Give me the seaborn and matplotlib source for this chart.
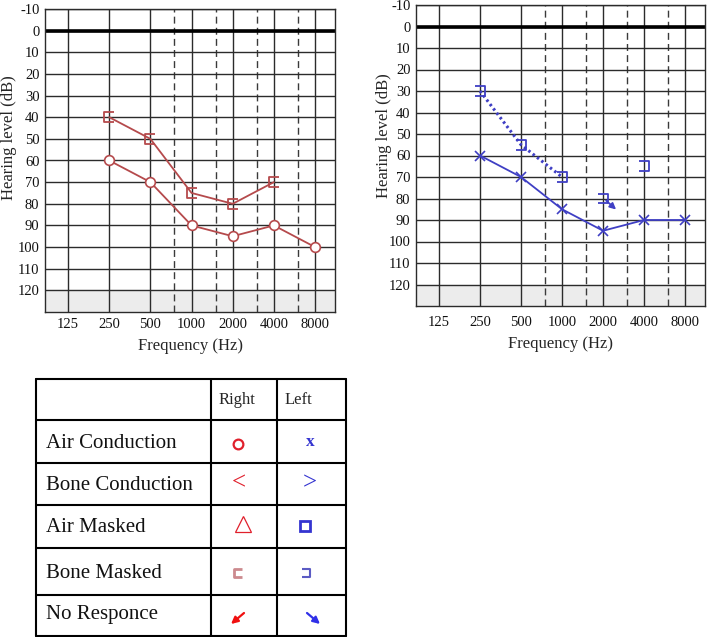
import numpy as np
import matplotlib
matplotlib.use("Agg")
import matplotlib.pyplot as plt
from matplotlib.path import Path
from matplotlib.transforms import offset_copy
import seaborn as sns

# audiogram values (dB HL)
tick_freqs = [125, 250, 500, 1000, 2000, 4000, 8000]
half_octaves = [750, 1500, 3000, 6000]
db_ticks = list(range(-10, 130, 10))

right_air_freq = [250, 500, 1000, 2000, 4000, 8000]
right_air_db = [60, 70, 90, 95, 90, 100]
right_bone_freq = [250, 500, 1000, 2000, 4000]
right_bone_db = [40, 50, 75, 80, 70]

left_air_freq = [250, 500, 1000, 2000, 4000, 8000]
left_air_db = [60, 70, 85, 95, 90, 90]
left_bone_freq = [250, 500, 1000]
left_bone_db = [30, 55, 70]
left_bone_single_freq = [2000, 4000]
left_bone_single_db = [80, 65]
left_no_resp_freq = 2000
left_no_resp_db = 80

row_labels = ["Air Conduction", "Bone Conduction", "Air Masked", "Bone Masked", "No Responce"]
col_labels = ["Right", "Left"]

RED = "#b54a4c"
BLUE = "#3f3fc4"
T_RED = "#e0202c"
T_BLUE = "#3434d0"

# bracket markers for masked bone conduction
bracket_right = Path([(1, 1), (-1, 1), (-1, -1), (1, -1)],
                     [Path.MOVETO, Path.LINETO, Path.LINETO, Path.LINETO])
bracket_left = Path([(-1, 1), (1, 1), (1, -1), (-1, -1)],
                    [Path.MOVETO, Path.LINETO, Path.LINETO, Path.LINETO])

sns.set_style("white")
plt.rcParams['font.family'] = ['Liberation Serif', 'DejaVu Serif']


def setup_audiogram(ax, xpad, label_xy):
    ax.set_xscale("log", base=2)
    ax.set_xlim(125 / 2 ** 0.56, 8000 * 2 ** 0.485)
    ax.set_ylim(130, -10)
    ax.axhspan(120, 130, color="#ececec", zorder=0)
    for f in tick_freqs:
        ax.axvline(f, color="#2b2b2b", lw=1, zorder=1)
    for f in half_octaves:
        ax.axvline(f, color="#3a3a3a", lw=1, ls=(0, (5, 3)), zorder=1)
    for d in db_ticks:
        ax.axhline(d, color="#2b2b2b", lw=1, zorder=1)
    ax.axhline(0, color="black", lw=2.6, zorder=2)
    ax.set_xticks(tick_freqs)
    ax.set_xticklabels([str(f) for f in tick_freqs])
    ax.xaxis.set_minor_locator(matplotlib.ticker.NullLocator())
    ax.set_yticks(db_ticks)
    ax.set_yticklabels([str(d) for d in db_ticks])
    ax.tick_params(length=0, labelsize=10.5, colors="#111111")
    ax.tick_params(axis="y", pad=4)
    ax.tick_params(axis="x", pad=xpad)
    for s in ax.spines.values():
        s.set_color("#2b2b2b")
        s.set_linewidth(1)
    ax.set_xlabel("Frequency (Hz)", fontsize=12, labelpad=5)
    ax.set_ylabel("Hearing level (dB)", fontsize=12, va="center")
    ax.yaxis.set_label_coords(*label_xy)


fig = plt.figure(figsize=(7.08, 6.37), dpi=100)
ax_r = fig.add_axes([45 / 708, 1 - 312 / 637, 290 / 708, 303 / 637])
ax_l = fig.add_axes([416 / 708, 1 - 306 / 637, 289 / 708, 301 / 637])
setup_audiogram(ax_r, 4, (-0.125, 0.575))
setup_audiogram(ax_l, 7, (-0.112, 0.567))

# right ear (red)
sns.lineplot(x=right_air_freq, y=right_air_db, ax=ax_r, color=RED, lw=1.3,
             marker="o", markersize=7, markerfacecolor="white",
             markeredgecolor=RED, markeredgewidth=1.2, zorder=5)
sns.lineplot(x=right_bone_freq, y=right_bone_db, ax=ax_r, color=RED, lw=1.3,
             marker=bracket_right, markersize=7, markerfacecolor="none",
             markeredgecolor=RED, markeredgewidth=1.3, zorder=5)

# left ear (blue)
sns.lineplot(x=left_air_freq, y=left_air_db, ax=ax_l, color=BLUE, lw=1.3,
             marker="x", markersize=7, markeredgecolor=BLUE,
             markeredgewidth=1.2, zorder=5)
sns.lineplot(x=left_bone_freq, y=left_bone_db, ax=ax_l, color=BLUE, lw=2.2,
             ls=(0, (0.8, 1.0)), marker=bracket_left, markersize=7,
             markerfacecolor="none", markeredgecolor=BLUE,
             markeredgewidth=1.3, zorder=5)
sns.scatterplot(x=left_bone_single_freq, y=left_bone_single_db, ax=ax_l,
                marker=bracket_left, s=49, facecolors="none",
                edgecolors=BLUE, linewidths=1.3, zorder=5)
start = offset_copy(ax_l.transData, fig=fig, x=3, y=-2, units="dots")
tip = offset_copy(ax_l.transData, fig=fig, x=13, y=-11, units="dots")
ax_l.annotate("", xy=(left_no_resp_freq, left_no_resp_db), xycoords=tip,
              xytext=(left_no_resp_freq, left_no_resp_db), textcoords=start,
              arrowprops=dict(arrowstyle="-|>", color=BLUE, lw=1.3,
                              mutation_scale=9, shrinkA=0, shrinkB=0),
              zorder=6)

# symbol key table
tab = fig.add_axes([36 / 708, 1 - 637 / 637, 310 / 708, 258 / 637])
tab.set_xlim(0, 310)
tab.set_ylim(258, 0)
tab.axis("off")
row_edges = [0, 41, 84, 126, 169, 216, 257]
col_edges = [0, 175, 241, 310]
for y in row_edges:
    tab.plot([0, 310], [y, y], color="black", lw=1.5, clip_on=False)
for x in col_edges:
    tab.plot([x, x], [0, 257], color="black", lw=1.5, clip_on=False)
row_y = [64, 107, 149, 194, 236]
for lab, y in zip(row_labels, row_y):
    tab.text(10, y, lab, fontsize=15, va="center", ha="left", color="#111111")
tab.text(183, 21, col_labels[0], fontsize=12, va="center", ha="left")
tab.text(249, 21, col_labels[1], fontsize=12, va="center", ha="left")

tab.plot([202], [65], marker="o", ms=7, mfc="none", mec=T_RED, mew=1.6)
tab.text(274, 63, "x", fontsize=12.5, fontweight="bold", color=T_BLUE,
         ha="center", va="center")
tab.text(203, 104, "<", fontsize=18, color=T_RED, ha="center", va="center")
tab.text(274, 104, ">", fontsize=18, color=T_BLUE, ha="center", va="center")
tab.plot([207], [145], marker="^", ms=11, mfc="none", mec=T_RED, mew=0.9)
tab.plot([269], [147], marker="s", ms=7, mfc="none", mec=T_BLUE, mew=2)
tab.plot([202], [194], marker=bracket_right, ms=6, mfc="none", mec="#cc8a8e", mew=2)
tab.plot([270], [194], marker=bracket_left, ms=5.5, mfc="none", mec="#5b5bc4", mew=1.5)
tab.annotate("", xy=(195, 245), xytext=(208, 234),
             arrowprops=dict(arrowstyle="-|>", color="#f01010", lw=1.6,
                             mutation_scale=10, shrinkA=0, shrinkB=0))
tab.annotate("", xy=(284, 245), xytext=(271, 234),
             arrowprops=dict(arrowstyle="-|>", color="#3030e8", lw=1.6,
                             mutation_scale=10, shrinkA=0, shrinkB=0))

fig.savefig("out.png", dpi=100)
